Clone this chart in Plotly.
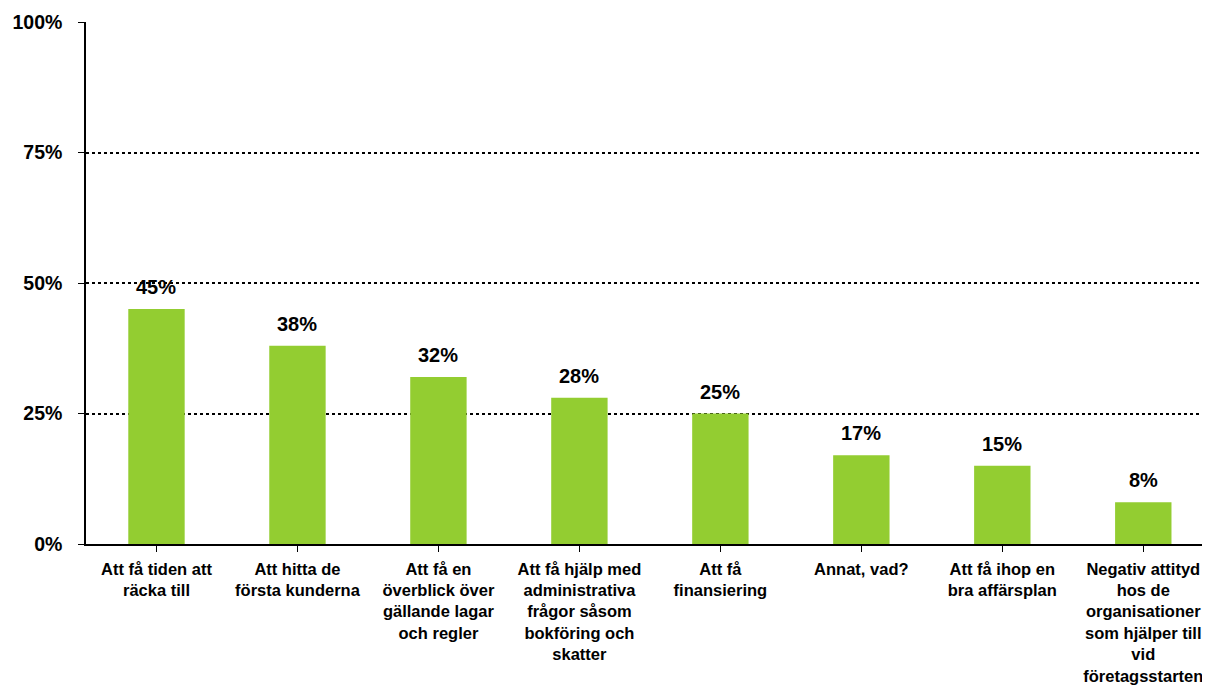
import plotly.graph_objects as go

categories = [
    "Att få tiden att<br>räcka till",
    "Att hitta de<br>första kunderna",
    "Att få en<br>överblick över<br>gällande lagar<br>och regler",
    "Att få hjälp med<br>administrativa<br>frågor såsom<br>bokföring och<br>skatter",
    "Att få<br>finansiering",
    "Annat, vad?",
    "Att få ihop en<br>bra affärsplan",
    "Negativ attityd<br>hos de<br>organisationer<br>som hjälper till<br>vid<br>företagsstarten",
]
values = [45, 38, 32, 28, 25, 17, 15, 8]
tick_vals = [0, 25, 50, 75, 100]
tick_text = ["0%", "25%", "50%", "75%", "100%"]

FONT = "Liberation Sans, Arial, sans-serif"
x = list(range(len(categories)))

fig = go.Figure()
fig.add_trace(go.Bar(
    x=x, y=values, marker=dict(color="#93CD31", line=dict(width=0)),
    width=0.4, hoverinfo="skip",
))

for xi, v in zip(x, values):
    fig.add_annotation(x=xi, y=v, text=f"<b>{v}%</b>", showarrow=False,
                       yanchor="bottom", yshift=9,
                       font=dict(family=FONT, size=20, color="black"))

fig.update_layout(
    width=1210, height=690,
    margin=dict(l=78, r=0, t=14, b=154),
    plot_bgcolor="white", paper_bgcolor="white",
    showlegend=False,
    bargap=0.6,
    font=dict(family=FONT, color="black"),
)
fig.update_xaxes(
    range=[-0.5, 7.53], tickvals=x,
    ticktext=[f"<b>{c}</b>" for c in categories],
    tickfont=dict(family=FONT, size=16.5, color="black"),
    showline=True, linecolor="black", linewidth=1.5,
    ticks="outside", tickson="boundaries", ticklen=6, tickcolor="black",
    ticklabelstandoff=3,
    showgrid=False, zeroline=False,
)
fig.update_yaxes(
    range=[0, 100], tickvals=tick_vals,
    ticktext=[f"<b>{t}</b>" for t in tick_text],
    tickfont=dict(family=FONT, size=19.5, color="black"),
    showline=True, linecolor="black", linewidth=1.5,
    ticks="outside", ticklen=6, tickcolor="black",
    ticklabelstandoff=12,
    showgrid=True, gridcolor="black", gridwidth=1.5, griddash="dot",
    zeroline=False,
)

fig.write_html("out.html")
